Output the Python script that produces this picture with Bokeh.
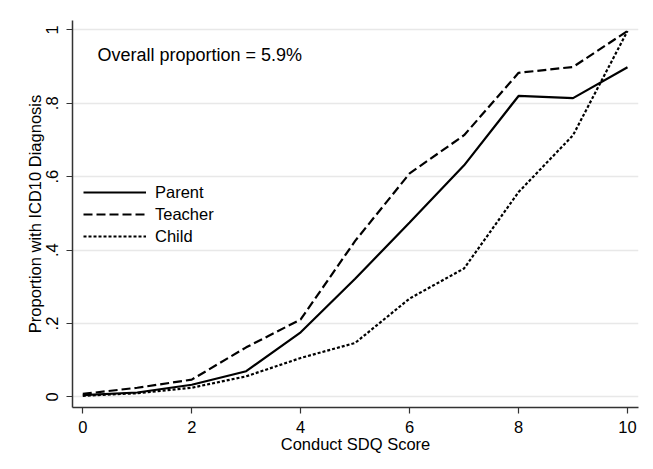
from bokeh.plotting import figure
from bokeh.models import Range1d, Legend, LegendItem, FixedTicker, Label
from bokeh.embed import file_html
from bokeh.resources import INLINE

scores = [0, 1, 2, 3, 4, 5, 6, 7, 8, 9, 10]
parent = [0.005, 0.012, 0.033, 0.070, 0.176, 0.322, 0.475, 0.631, 0.820, 0.814, 0.898]
teacher = [0.008, 0.025, 0.047, 0.135, 0.211, 0.425, 0.609, 0.713, 0.883, 0.899, 0.997]
child = [0.003, 0.010, 0.025, 0.056, 0.106, 0.147, 0.268, 0.350, 0.558, 0.713, 0.997]
x_ticks = [0, 2, 4, 6, 8, 10]
y_ticks = [0, 0.2, 0.4, 0.6, 0.8, 1.0]
y_tick_labels = ["0", ".2", ".4", ".6", ".8", "1"]
note = "Overall proportion = 5.9%"

FONT = "Liberation Sans"

p = figure(width=645, height=461, output_backend="svg", toolbar_location=None,
           x_range=Range1d(-0.189, 10.202), y_range=Range1d(-0.0289, 1.0256),
           min_border_left=72, min_border_right=7, min_border_top=20, min_border_bottom=54)
p.outline_line_color = None
p.background_fill_color = "white"
p.border_fill_color = "white"

r1 = p.line(scores, parent, line_color="black", line_width=2.2)
r2 = p.line(scores, teacher, line_color="black", line_width=2.2, line_dash="9 4")
r3 = p.line(scores, child, line_color="black", line_width=2.2, line_dash="3 2")

p.xgrid.grid_line_color = None
p.ygrid.grid_line_color = "#e8e8e8"
p.ygrid.grid_line_width = 1.3

p.xaxis.ticker = FixedTicker(ticks=x_ticks)
p.yaxis.ticker = FixedTicker(ticks=y_ticks)
p.yaxis.major_label_overrides = {t: l for t, l in zip(y_ticks, y_tick_labels)}
p.yaxis.major_label_orientation = "vertical"

for ax in (p.xaxis[0], p.yaxis[0]):
    ax.axis_line_color = "#333333"
    ax.axis_line_width = 1.5
    ax.major_tick_line_color = "#333333"
    ax.major_tick_line_width = 1.2
    ax.major_tick_in = 0
    ax.major_tick_out = 6
    ax.minor_tick_line_color = None
    ax.major_label_text_font = FONT
    ax.major_label_text_font_size = "16.5px"
    ax.major_label_text_color = "black"
    ax.axis_label_text_font = FONT
    ax.axis_label_text_font_size = "16.5px"
    ax.axis_label_text_font_style = "normal"
    ax.axis_label_text_color = "black"

p.xaxis.axis_label = "Conduct SDQ Score"
p.yaxis.axis_label = "Proportion with ICD10 Diagnosis"
p.xaxis.major_label_standoff = 7
p.xaxis.axis_label_standoff = -1
p.yaxis.major_label_standoff = 8
p.yaxis.axis_label_standoff = 0

legend = Legend(items=[LegendItem(label="Parent", renderers=[r1]),
                       LegendItem(label="Teacher", renderers=[r2]),
                       LegendItem(label="Child", renderers=[r3])],
                location=(11, 161), glyph_width=63, glyph_height=20, spacing=2,
                padding=11, margin=0, label_standoff=9, label_width=66,
                label_text_font=FONT, label_text_font_size="16.5px",
                label_text_color="black",
                border_line_color=None, background_fill_color="white",
                background_fill_alpha=1.0)
p.add_layout(legend, "center")

p.add_layout(Label(x=0.27, y=0.931, text=note, text_font=FONT,
                   text_font_size="18px", text_baseline="middle", text_color="black"))

open("out.html", "w").write(file_html(p, INLINE))
